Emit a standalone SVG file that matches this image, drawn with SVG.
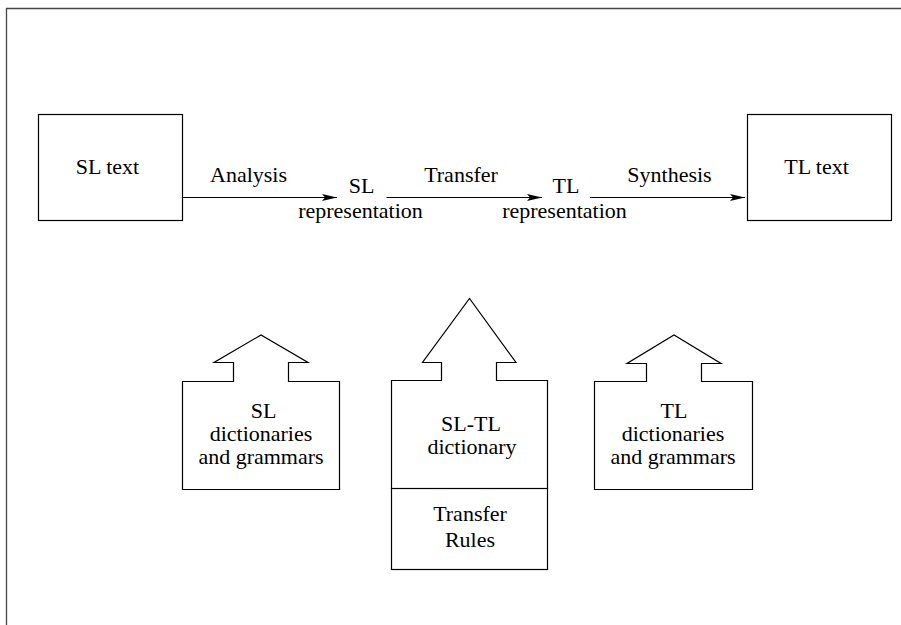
<svg xmlns="http://www.w3.org/2000/svg" width="901" height="625" viewBox="0 0 901 625">
<defs>
<style>
text{font-family:"Liberation Serif",Tinos,"Times New Roman",Times,"Nimbus Roman","DejaVu Serif",serif;font-size:22px;fill:#000;text-anchor:middle}
.b{fill:#fff;stroke:#000;stroke-width:1.2}
.c{stroke:#000;stroke-width:1.2;fill:none}
</style>
<marker id="ah" markerUnits="userSpaceOnUse" markerWidth="16" markerHeight="8" refX="15" refY="4" orient="auto">
<path d="M0,0.5 L15,4 L0,7.5 L3,4 z" fill="#000"/>
</marker>
</defs>
<rect width="901" height="625" fill="#fff"/>
<path d="M6.5,625 L6.5,8.5 L901,8.5" fill="none" stroke="#444" stroke-width="1.3"/>
<g id="sl-text">
<rect class="b" x="38.5" y="114.5" width="144" height="106"/>
<text x="107.5" y="174">SL text</text>
</g>
<g id="tl-text">
<rect class="b" x="747.5" y="114.5" width="144" height="106"/>
<text x="816.5" y="174">TL text</text>
</g>
<g id="sl-rep">
<text x="361.5" y="193">SL</text>
<text x="360.5" y="218">representation</text>
</g>
<g id="tl-rep">
<text x="566" y="193">TL</text>
<text x="564.5" y="218">representation</text>
</g>
<g id="connectors">
<line class="c" x1="182.5" y1="197.5" x2="337" y2="197.5" marker-end="url(#ah)"/>
<line class="c" x1="386.5" y1="197.5" x2="542" y2="197.5" marker-end="url(#ah)"/>
<line class="c" x1="590" y1="197.5" x2="745" y2="197.5" marker-end="url(#ah)"/>
<text x="248.5" y="182">Analysis</text>
<text x="461" y="182">Transfer</text>
<text x="669.5" y="182">Synthesis</text>
</g>
<g id="sl-dict">
<path class="b" d="M182.5,489.5 L182.5,381.5 L233.5,381.5 L233.5,362.5 L214,362.5 L261,335 L308,362.5 L288.5,362.5 L288.5,381.5 L339.5,381.5 L339.5,489.5 Z"/>
<text x="263.5" y="418">SL</text>
<text x="261" y="441">dictionaries</text>
<text x="261" y="464">and grammars</text>
</g>
<g id="sltl-dict">
<path class="b" d="M391.5,488.5 L391.5,380.5 L441.5,380.5 L441.5,362.5 L422.5,362.5 L469.5,298.5 L516,362.5 L496.5,362.5 L496.5,380.5 L547.5,380.5 L547.5,488.5 Z"/>
<text x="471" y="431">SL-TL</text>
<text x="472" y="454">dictionary</text>
</g>
<g id="transfer-rules">
<rect class="b" x="391.5" y="488.5" width="156" height="81"/>
<text x="470" y="521">Transfer</text>
<text x="470" y="547">Rules</text>
</g>
<g id="tl-dict">
<path class="b" d="M594.5,489.5 L594.5,381.5 L646.5,381.5 L646.5,363.5 L627,363.5 L674,335 L721,363.5 L701.5,363.5 L701.5,381.5 L752.5,381.5 L752.5,489.5 Z"/>
<text x="674" y="418">TL</text>
<text x="673" y="441">dictionaries</text>
<text x="673" y="464">and grammars</text>
</g>
</svg>
